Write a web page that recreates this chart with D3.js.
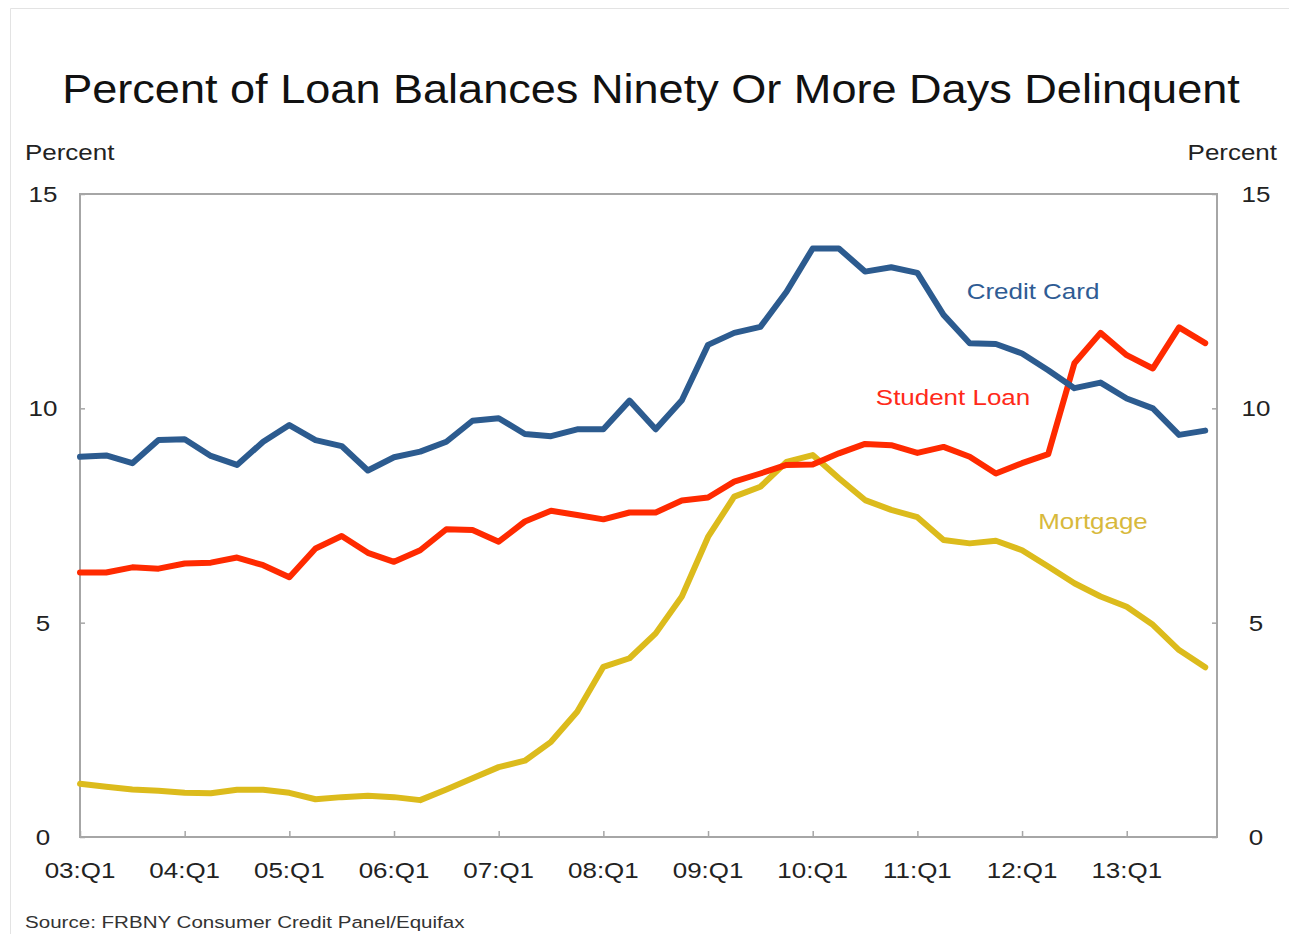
<!DOCTYPE html>
<html><head><meta charset="utf-8">
<script src="https://cdn.jsdelivr.net/npm/d3@7"></script>
<style>body{margin:0;background:#fff}svg{display:block;font-family:"Liberation Sans",Arial,sans-serif}</style>
</head><body><svg id="c" width="1289" height="934"></svg>
<script>
const quarters = [];
for (let y = 3; y <= 13; y++) for (let q = 1; q <= 4; q++) quarters.push(String(y).padStart(2,"0") + ":Q" + q);
const tickLabels = ["03:Q1","04:Q1","05:Q1","06:Q1","07:Q1","08:Q1","09:Q1","10:Q1","11:Q1","12:Q1","13:Q1"];
const yTicks = [0,5,10,15];
const creditCard = [8.87,8.90,8.72,9.26,9.28,8.89,8.68,9.22,9.61,9.26,9.12,8.55,8.86,8.99,9.22,9.71,9.77,9.40,9.35,9.51,9.51,10.18,9.51,10.19,11.48,11.76,11.90,12.72,13.73,13.73,13.19,13.29,13.16,12.18,11.52,11.50,11.28,10.89,10.47,10.60,10.23,10.00,9.38,9.48];
const studentLoan = [6.17,6.17,6.29,6.26,6.38,6.40,6.52,6.34,6.06,6.73,7.02,6.63,6.42,6.69,7.18,7.16,6.89,7.36,7.61,7.51,7.41,7.57,7.57,7.85,7.92,8.29,8.48,8.68,8.69,8.95,9.17,9.14,8.96,9.10,8.87,8.48,8.72,8.93,11.05,11.76,11.24,10.93,11.89,11.52];
const mortgage = [1.24,1.17,1.11,1.08,1.03,1.02,1.10,1.10,1.03,0.88,0.93,0.96,0.93,0.86,1.11,1.37,1.63,1.78,2.22,2.92,3.97,4.17,4.75,5.61,7.00,7.94,8.17,8.75,8.91,8.37,7.86,7.63,7.46,6.93,6.85,6.91,6.69,6.31,5.92,5.61,5.37,4.95,4.36,3.96];

const svg = d3.select("#c");
const L = 80, R = 1217, T = 194, B = 837;
const x = d3.scaleLinear().domain([0, 43.45]).range([L, R]);
const y = d3.scaleLinear().domain([0, 15]).range([B, T]);
const axisColor = "#a6a6a6";
const SX = 1.18;

function txt(px, py, s, size, fill, anchor, sx) {
  return svg.append("text").attr("transform", `translate(${px},${py}) scale(${sx||SX},1)`)
    .attr("text-anchor", anchor || "start").attr("font-size", size).attr("fill", fill).text(s);
}

// outer frame
svg.append("path").attr("d","M10.5,934 L10.5,8.5 L1289,8.5").attr("fill","none").attr("stroke","#e3e3e3").attr("stroke-width",1);

txt(651, 103, "Percent of Loan Balances Ninety Or More Days Delinquent", 41, "#111", "middle", 1.1);
txt(25, 160, "Percent", 22, "#222", "start");
txt(1277, 160, "Percent", 22, "#222", "end");

// plot frame
svg.append("rect").attr("x",L).attr("y",T).attr("width",R-L).attr("height",B-T).attr("fill","none").attr("stroke",axisColor).attr("stroke-width",2);

const yl = svg.append("g").attr("transform",`translate(${L},0)`).call(d3.axisRight(y).tickValues(yTicks).tickSize(5).tickFormat(""));
yl.selectAll(".domain").remove();
yl.selectAll("line").attr("stroke",axisColor).attr("stroke-width",1.5);
const yr = svg.append("g").attr("transform",`translate(${R},0)`).call(d3.axisLeft(y).tickValues(yTicks).tickSize(5).tickFormat(""));
yr.selectAll(".domain").remove();
yr.selectAll("line").attr("stroke",axisColor).attr("stroke-width",1.5);
yTicks.forEach(v => {
  txt(43, y(v)+8, String(v), 22, "#222", "middle");
  txt(1256, y(v)+8, String(v), 22, "#222", "middle");
});

const xIdx = tickLabels.map(t => quarters.indexOf(t));
const xa = svg.append("g").attr("transform",`translate(0,${B})`).call(d3.axisTop(x).tickValues(xIdx).tickSize(6).tickFormat(""));
xa.selectAll(".domain").remove();
xa.selectAll("line").attr("stroke",axisColor).attr("stroke-width",1.5);
xIdx.forEach((v,i) => txt(x(v), 878, tickLabels[i], 22, "#222", "middle"));

const line = d3.line().x((d,i)=>x(i)).y(d=>y(d));
const series = [
  {data: mortgage, color:"#dcbb1c"},
  {data: studentLoan, color:"#ff2a00"},
  {data: creditCard, color:"#2c5b8f"}
];
series.forEach(s => svg.append("path").datum(s.data).attr("d",line).attr("fill","none")
  .attr("stroke",s.color).attr("stroke-width",6).attr("stroke-linejoin","round").attr("stroke-linecap","round"));

txt(1033, 299, "Credit Card", 22, "#2f5c94", "middle");
txt(953, 405, "Student Loan", 22, "#ff2a1a", "middle");
txt(1093, 529, "Mortgage", 22, "#d8b93c", "middle");

txt(25, 928, "Source: FRBNY Consumer Credit Panel/Equifax", 17, "#333", "start", 1.21);
</script></body></html>
